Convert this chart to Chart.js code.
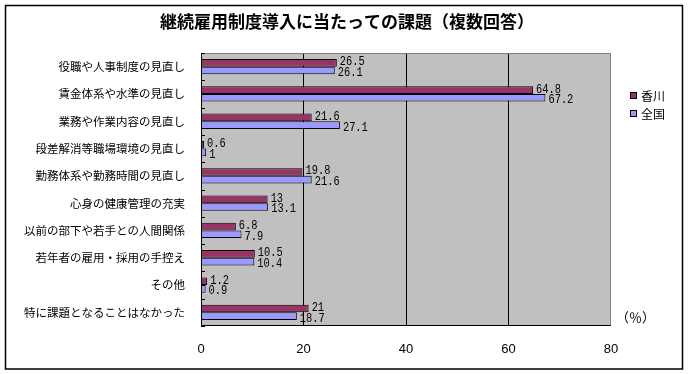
<!DOCTYPE html>
<html>
<head>
<meta charset="utf-8">
<script src="https://cdn.jsdelivr.net/npm/chart.js@4"></script>
<style>
  html, body { margin: 0; padding: 0; background: #fff; }
  #wrap { width: 689px; height: 374px; }
</style>
</head>
<body>
<div id="wrap"><canvas id="myChart" width="689" height="374"></canvas></div>
<script>
const categories = [
  '役職や人事制度の見直し',
  '賃金体系や水準の見直し',
  '業務や作業内容の見直し',
  '段差解消等職場環境の見直し',
  '勤務体系や勤務時間の見直し',
  '心身の健康管理の充実',
  '以前の部下や若手との人間関係',
  '若年者の雇用・採用の手控え',
  'その他',
  '特に課題となることはなかった'
];
const kagawa = [26.5, 64.8, 21.6, 0.6, 19.8, 13, 6.8, 10.5, 1.2, 21];
const zenkoku = [26.1, 67.2, 27.1, 1, 21.6, 13.1, 7.9, 10.4, 0.9, 18.7];
const xTicks = [0, 20, 40, 60, 80];
const title = '継続雇用制度導入に当たっての課題（複数回答）';

const jp = '"Noto Sans CJK JP", sans-serif';

// gray plot background, frame, outer border, title, legend, unit label, value labels
const decor = {
  id: 'decor',
  beforeDraw(chart) {
    const { ctx, chartArea: a } = chart;
    ctx.save();
    ctx.fillStyle = '#fff';
    ctx.fillRect(0, 0, chart.width, chart.height);
    ctx.fillStyle = '#c0c0c0';
    ctx.fillRect(a.left, a.top, a.right - a.left, a.bottom - a.top);
    ctx.restore();
  },
  afterDraw(chart) {
    const { ctx, chartArea: a } = chart;
    ctx.save();
    // frame
    ctx.lineWidth = 1;
    ctx.strokeStyle = '#808080';
    ctx.beginPath();
    ctx.moveTo(a.left, a.top + 0.5);
    ctx.lineTo(a.right - 0.5, a.top + 0.5);
    ctx.lineTo(a.right - 0.5, a.bottom);
    ctx.stroke();
    ctx.strokeStyle = '#000';
    ctx.beginPath();
    ctx.moveTo(a.left + 0.5, a.top);
    ctx.lineTo(a.left + 0.5, a.bottom - 0.5);
    ctx.lineTo(a.right, a.bottom - 0.5);
    ctx.stroke();
    // inward tick marks between categories
    const step = (a.bottom - a.top) / categories.length;
    ctx.beginPath();
    for (let i = 0; i <= categories.length; i++) {
      const yy = Math.round(a.top + i * step) + 0.5;
      ctx.moveTo(a.left, yy);
      ctx.lineTo(a.left + 4, yy);
    }
    ctx.stroke();
    // outer border
    ctx.strokeStyle = '#000';
    ctx.lineWidth = 1.5;
    ctx.strokeRect(5.5, 5.5, 677, 363.5);

    // title
    ctx.fillStyle = '#000';
    ctx.textAlign = 'center';
    ctx.textBaseline = 'middle';
    ctx.font = 'bold 17px ' + jp;
    ctx.fillText(title, 347, 22);
    ctx.textAlign = 'left';

    // value labels
    ctx.font = '13px "Liberation Mono", monospace';
    [[0, kagawa, -1], [1, zenkoku, 2]].forEach(([di, vals, dy]) => {
      const meta = chart.getDatasetMeta(di);
      meta.data.forEach((bar, i) => {
        ctx.save();
        ctx.translate(bar.x + 3, bar.y + dy);
        ctx.scale(0.8, 1);
        ctx.fillText(String(vals[i]), 0, 0);
        ctx.restore();
      });
    });

    // legend
    ctx.font = '12px ' + jp;
    const items = [['香川', '#993366'], ['全国', '#9999ff']];
    items.forEach(([t, c], i) => {
      const ly = 95 + i * 18;
      ctx.fillStyle = c;
      ctx.fillRect(630, ly - 3, 7, 7);
      ctx.strokeStyle = '#000';
      ctx.lineWidth = 1;
      ctx.strokeRect(630.5, ly - 2.5, 6, 6);
      ctx.fillStyle = '#000';
      ctx.fillText(t, 641, ly + 1);
    });

    // unit
    ctx.font = '13px ' + jp;
    ctx.fillText('（％）', 616, 317);
    ctx.restore();
  }
};

new Chart(document.getElementById('myChart'), {
  type: 'bar',
  data: {
    labels: categories,
    datasets: [
      {
        label: '香川',
        data: kagawa,
        backgroundColor: '#993366',
        borderColor: '#000',
        borderWidth: 1,
        categoryPercentage: 0.56,
        barPercentage: 1.0
      },
      {
        label: '全国',
        data: zenkoku,
        backgroundColor: '#9999ff',
        borderColor: '#000',
        borderWidth: 1,
        categoryPercentage: 0.56,
        barPercentage: 1.0
      }
    ]
  },
  options: {
    indexAxis: 'y',
    responsive: false,
    animation: false,
    layout: { padding: { left: 5, right: 78, top: 53, bottom: 0 } },
    plugins: {
      legend: { display: false },
      tooltip: { enabled: false },
      title: { display: false }
    },
    scales: {
      x: {
        min: 0,
        max: 80,
        afterBuildTicks(scale) {
          scale.ticks = xTicks.map(v => ({ value: v }));
        },
        afterFit(scale) { scale.height = 48; },
        grid: {
          drawTicks: false,
          color: c => (c.tick && c.tick.value > 0 && c.tick.value < 80) ? '#000' : 'rgba(0,0,0,0)'
        },
        border: { display: false },
        ticks: {
          padding: 16,
          color: '#000',
          font: { size: 13, family: '"Liberation Sans", sans-serif' }
        }
      },
      y: {
        afterFit(scale) { scale.width = 196; },
        grid: { display: false, drawTicks: false },
        border: { display: false },
        ticks: {
          padding: 16,
          color: '#000',
          autoSkip: false,
          font: { size: 11.5, family: jp }
        }
      }
    }
  },
  plugins: [decor]
});
</script>
</body>
</html>
